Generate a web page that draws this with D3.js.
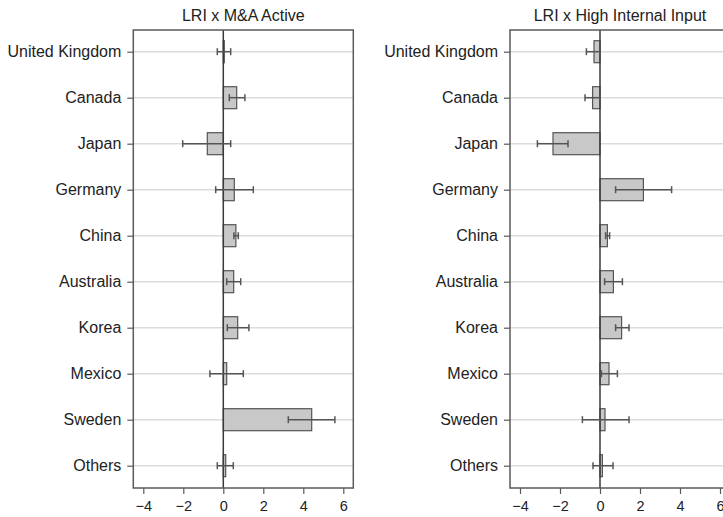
<!DOCTYPE html>
<html><head><meta charset="utf-8">
<script src="https://cdn.jsdelivr.net/npm/d3@7"></script>
<style>body{margin:0;background:#fff}svg{display:block;font-family:"Liberation Sans",Arial,sans-serif}</style>
</head><body><svg id="c" width="723" height="517"></svg>
<script>
const categories = ["United Kingdom","Canada","Japan","Germany","China","Australia","Korea","Mexico","Sweden","Others"];
const xTicks = [-4,-2,0,2,4,6];
const maTitle = "LRI x M&A Active";
const maCoef = [0.05, 0.67, -0.8, 0.55, 0.63, 0.52, 0.72, 0.17, 4.42, 0.12];
const maLow  = [-0.3, 0.3, -2.03, -0.38, 0.53, 0.17, 0.2, -0.67, 3.25, -0.3];
const maHigh = [0.37, 1.08, 0.37, 1.5, 0.75, 0.87, 1.28, 1.0, 5.58, 0.5];
const hiTitle = "LRI x High Internal Input";
const hiCoef = [-0.3, -0.37, -2.35, 2.17, 0.37, 0.67, 1.08, 0.45, 0.25, 0.12];
const hiLow  = [-0.68, -0.75, -3.13, 0.78, 0.28, 0.23, 0.78, 0.07, -0.88, -0.35];
const hiHigh = [0.0, 0.0, -1.6, 3.58, 0.48, 1.12, 1.45, 0.87, 1.45, 0.65];

(function () {
const svg = d3.select("#c");
const plotTop = 30, plotBottom = 488, pw = 220;
const y = d3.scalePoint().domain(categories).range([51.7, 465.7]);
const barH = 22;

function panel(x0, title, coef, low, high) {
  const x = d3.scaleLinear().domain([-4.5, 6.5]).range([x0, x0 + pw]);
  const g = svg.append("g");
  g.selectAll(".grid").data(categories).join("line")
    .attr("x1", x0).attr("x2", x0 + pw)
    .attr("y1", d => y(d)).attr("y2", d => y(d))
    .attr("stroke", "#dcdcdc").attr("stroke-width", 1.5);
  g.selectAll(".bar").data(categories).join("rect")
    .attr("x", (d, i) => Math.min(x(0), x(coef[i])))
    .attr("width", (d, i) => Math.abs(x(coef[i]) - x(0)))
    .attr("y", d => y(d) - barH / 2).attr("height", barH)
    .attr("fill", "#c8c8c8").attr("stroke", "#555").attr("stroke-width", 1.2);
  g.append("line").attr("x1", x(0)).attr("x2", x(0)).attr("y1", plotTop).attr("y2", plotBottom)
    .attr("stroke", "#3a3a3a").attr("stroke-width", 1.5);
  const eb = g.selectAll(".eb").data(categories).join("g").attr("stroke", "#555").attr("stroke-width", 1.5);
  eb.append("line").attr("x1", (d, i) => x(low[i])).attr("x2", (d, i) => x(high[i]))
    .attr("y1", d => y(d)).attr("y2", d => y(d));
  eb.append("line").attr("x1", (d, i) => x(low[i])).attr("x2", (d, i) => x(low[i]))
    .attr("y1", d => y(d) - 3.5).attr("y2", d => y(d) + 3.5);
  eb.append("line").attr("x1", (d, i) => x(high[i])).attr("x2", (d, i) => x(high[i]))
    .attr("y1", d => y(d) - 3.5).attr("y2", d => y(d) + 3.5);
  g.append("rect").attr("x", x0).attr("y", plotTop).attr("width", pw).attr("height", plotBottom - plotTop)
    .attr("fill", "none").attr("stroke", "#5a5a5a").attr("stroke-width", 1.5);
  const xa = g.append("g").attr("transform", `translate(0,${plotBottom})`)
    .call(d3.axisBottom(x).tickValues(xTicks).tickSize(6).tickPadding(7).tickFormat(d3.format("d")));
  xa.select(".domain").remove();
  xa.selectAll("line").attr("stroke", "#5a5a5a").attr("stroke-width", 1.2);
  xa.selectAll("text").attr("font-size", 14.5).attr("fill", "#222").attr("font-family", "Liberation Sans, Arial, sans-serif");
  const ya = g.append("g").attr("transform", `translate(${x0},0)`)
    .call(d3.axisLeft(y).tickSize(6).tickPadding(6));
  ya.select(".domain").remove();
  ya.selectAll("line").attr("stroke", "#5a5a5a").attr("stroke-width", 1.2);
  ya.selectAll("text").attr("font-size", 16).attr("fill", "#222").attr("font-family", "Liberation Sans, Arial, sans-serif");
  g.append("text").attr("x", x0 + pw / 2).attr("y", 21).attr("text-anchor", "middle")
    .attr("font-size", 16).attr("fill", "#222").text(title);
}
panel(133.3, maTitle, maCoef, maLow, maHigh);
panel(510, hiTitle, hiCoef, hiLow, hiHigh);
})();
</script></body></html>
